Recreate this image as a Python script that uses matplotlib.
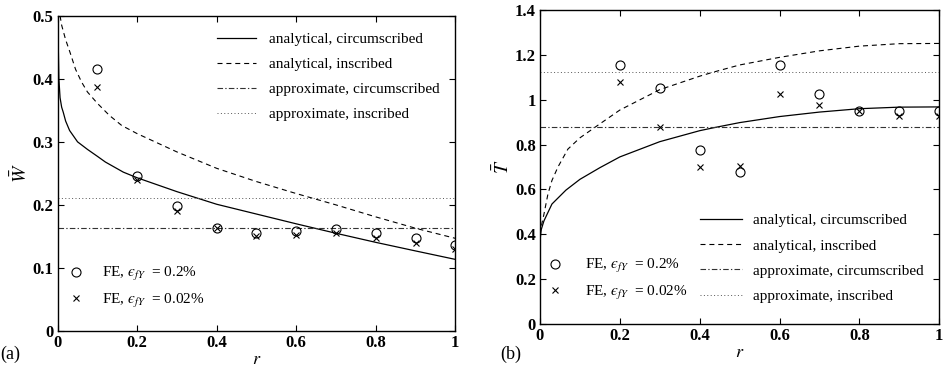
import matplotlib
matplotlib.use("Agg")
import matplotlib.pyplot as plt
from matplotlib.ticker import FuncFormatter, MultipleLocator

plt.rcParams["font.family"] = ["Liberation Serif", "DejaVu Serif"]
plt.rcParams["mathtext.fontset"] = "stix"

# ---- panel (a): normalised energy W vs r ----
r_w_circ = [0.0, 0.001, 0.003, 0.006, 0.01, 0.014, 0.02, 0.03, 0.05, 0.075,
            0.1, 0.12, 0.165, 0.2, 0.3, 0.4, 0.5, 0.6, 0.7, 0.8, 0.9, 1.0]
w_circ = [0.50, 0.47, 0.40, 0.37, 0.355, 0.347, 0.333, 0.318, 0.300, 0.288,
          0.277, 0.268, 0.252, 0.243, 0.221, 0.201, 0.1855, 0.170, 0.155, 0.1406, 0.127, 0.1136]

r_w_insc = [0.006, 0.01, 0.02, 0.031, 0.045, 0.06, 0.075, 0.1, 0.13, 0.161, 0.2, 0.3,
            0.4, 0.5, 0.6, 0.7, 0.8, 0.9, 1.0]
w_insc = [0.50, 0.485, 0.462, 0.442, 0.415, 0.395, 0.379, 0.361, 0.342, 0.326, 0.313, 0.284,
          0.258, 0.237, 0.218, 0.200, 0.181, 0.163, 0.147]

w_approx_circ = 0.163
w_approx_insc = 0.211

r_fe = [0.1, 0.2, 0.3, 0.4, 0.5, 0.6, 0.7, 0.8, 0.9, 1.0]
w_fe_02 = [0.415, 0.246, 0.199, 0.164, 0.155, 0.159, 0.162, 0.156, 0.147, 0.136]
w_fe_002 = [0.387, 0.240, 0.190, 0.163, 0.150, 0.153, 0.155, 0.147, 0.140, 0.130]

# ---- panel (b): normalised torque T vs r ----
r_t_circ = [0.0, 0.003, 0.01, 0.03, 0.065, 0.1, 0.15, 0.2, 0.3, 0.4, 0.44,
            0.5, 0.6, 0.7, 0.8, 0.9, 1.0]
t_circ = [0.37, 0.42, 0.46, 0.535, 0.597, 0.645, 0.697, 0.745, 0.813, 0.862, 0.877,
          0.898, 0.925, 0.945, 0.960, 0.967, 0.968]

r_t_insc = [0.0, 0.005, 0.01, 0.02, 0.03, 0.045, 0.07, 0.1, 0.14, 0.2, 0.3,
            0.4, 0.434, 0.5, 0.6, 0.7, 0.8, 0.9, 1.0]
t_insc = [0.40, 0.45, 0.49, 0.58, 0.64, 0.70, 0.78, 0.83, 0.88, 0.954, 1.045,
          1.105, 1.123, 1.155, 1.189, 1.218, 1.239, 1.250, 1.251]

t_approx_circ = 0.877
t_approx_insc = 1.123

r_fe_t = [0.2, 0.3, 0.4, 0.5, 0.6, 0.7, 0.8, 0.9, 1.0]
t_fe_02 = [1.153, 1.052, 0.777, 0.676, 1.153, 1.027, 0.951, 0.951, 0.952]
t_fe_002 = [1.077, 0.877, 0.701, 0.704, 1.027, 0.978, 0.951, 0.927, 0.929]

line_labels = ["analytical, circumscribed", "analytical, inscribed",
               "approximate, circumscribed", "approximate, inscribed"]
fe_labels = ["FE, $\u03f5_{fY}$  = 0.2%", "FE, $\u03f5_{fY}$  = 0.02%"]

DASH = (0, (4.5, 3.5))
DASHDOT = (0, (5, 2, 1.2, 2))
DOT = (0, (1, 2.5))

fig = plt.figure(figsize=(9.44, 3.70), dpi=100)
ax1 = fig.add_axes([0.0611, 0.1054, 0.4212, 0.852])
ax2 = fig.add_axes([0.572, 0.1243, 0.423, 0.8486])

fmt = FuncFormatter(lambda v, p: f"{v:g}")


def style_axes(ax, ymax, ystep):
    ax.set_xlim(0, 1)
    ax.set_ylim(0, ymax)
    ax.xaxis.set_major_locator(MultipleLocator(0.2))
    ax.yaxis.set_major_locator(MultipleLocator(ystep))
    ax.xaxis.set_major_formatter(fmt)
    ax.yaxis.set_major_formatter(fmt)
    ax.tick_params(direction="in", length=4, width=0.8, top=True, right=True,
                   labelsize=12, pad=3)
    for lab in ax.get_xticklabels() + ax.get_yticklabels():
        lab.set_fontweight("bold")
    for s in ax.spines.values():
        s.set_linewidth(1.0)
    ax.set_xlabel(r"$r$", fontsize=13, labelpad=0)


def draw_panel(ax, rc, yc, ri, yi, ya_c, ya_i, rfe, y02, y002):
    h1, = ax.plot(rc, yc, color="black", lw=0.9)
    h2, = ax.plot(ri, yi, color="black", lw=0.8, linestyle=DASH)
    h3 = ax.axhline(ya_c, color="#333333", lw=0.8, linestyle=DASHDOT)
    h4 = ax.axhline(ya_i, color="#555555", lw=0.7, linestyle=DOT)
    m1, = ax.plot(rfe, y02, linestyle="none", marker="o", ms=6.5,
                  mfc="none", mec="black", mew=0.8)
    m2, = ax.plot(rfe, y002, linestyle="none", marker="x", ms=4.5,
                  color="black", mew=0.8)
    return [h1, h2, h3, h4], [m1, m2]


lines_a, marks_a = draw_panel(ax1, r_w_circ, w_circ, r_w_insc, w_insc,
                              w_approx_circ, w_approx_insc, r_fe, w_fe_02, w_fe_002)
lines_b, marks_b = draw_panel(ax2, r_t_circ, t_circ, r_t_insc, t_insc,
                              t_approx_circ, t_approx_insc, r_fe_t, t_fe_02, t_fe_002)

style_axes(ax1, 0.5, 0.1)
style_axes(ax2, 1.4, 0.2)

ax1.set_ylabel(r"$\bar{W}$", fontsize=14, labelpad=1)
ax2.set_ylabel(r"$\bar{T}$", fontsize=14, labelpad=1)

leg_kw = dict(frameon=False, fontsize=11, labelspacing=0.75,
              borderaxespad=0.0, borderpad=0.0)
fe_kw = dict(frameon=False, fontsize=11, handlelength=2.0, labelspacing=0.55,
             borderaxespad=0.0, borderpad=0.0)

# panel (a) legends
la = ax1.legend(lines_a, line_labels, loc="upper left", handlelength=2.6,
                handletextpad=0.85, bbox_to_anchor=(0.40, 0.948), **leg_kw)
ax1.add_artist(la)
ax1.legend(marks_a, fe_labels, loc="upper left", bbox_to_anchor=(0.0075, 0.208),
           handletextpad=0.7, **fe_kw)

# panel (b) legends
lb = ax2.legend(lines_b, line_labels, loc="upper left", handlelength=2.75,
                handletextpad=0.72, bbox_to_anchor=(0.40, 0.351), **leg_kw)
ax2.add_artist(lb)
ax2.legend(marks_b, fe_labels, loc="upper left", bbox_to_anchor=(0.0, 0.212),
           handletextpad=0.94, **fe_kw)

fig.text(0.0, 0.02, "(a)", fontsize=13, ha="left", va="bottom")
fig.text(0.53, 0.02, "(b)", fontsize=13, ha="left", va="bottom")

fig.savefig("out.png", dpi=100)
